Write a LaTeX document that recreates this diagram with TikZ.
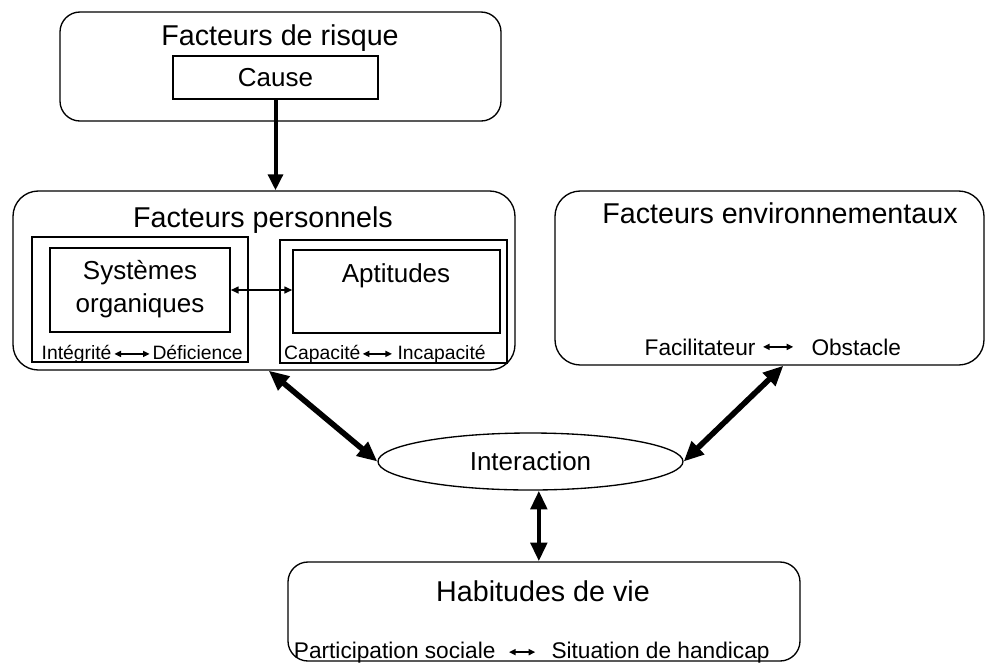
\documentclass[tikz,border=0pt]{standalone}
\usepackage{fontspec}
\setmainfont{Liberation Sans}
\usetikzlibrary{arrows.meta,fit,shapes.geometric}

\tikzset{every picture/.style={line width=0.75pt}}
\tikzset{
  roundbox/.style={draw, line width=1pt, rounded corners=15pt, inner sep=0pt},
  plainbox/.style={draw, line width=0.9pt, inner sep=0pt},
  titletext/.style={inner sep=0.75pt, font=\fontsize{21.5}{25}\selectfont},
  midtext/.style={inner sep=0.75pt, align=center, font=\fontsize{19.5}{24.5}\selectfont},
  lbltext/.style={inner sep=0.75pt, font=\fontsize{17}{20}\selectfont},
  smltext/.style={inner sep=0.75pt, font=\fontsize{14.5}{17}\selectfont},
  fatarrow/.style={line width=3pt, -{Triangle[length=12pt,width=11pt]}},
  fatboth/.style={line width=3.5pt, {Triangle[length=14pt,width=12pt]}-{Triangle[length=14pt,width=12pt]}},
  diagboth/.style={line width=4.2pt, {Triangle[length=15pt,width=13pt]}-{Triangle[length=15pt,width=13pt]}},
  medarrow/.style={line width=1.8pt, {Triangle[length=6pt,width=5pt]}-{Triangle[length=6pt,width=5pt]}},
  smallarrow/.style={line width=1.4pt, {Triangle[length=5pt,width=4.5pt]}-{Triangle[length=5pt,width=4.5pt]}}
}

\begin{document}
\begin{tikzpicture}[x=0.75pt,y=0.75pt,yscale=-1,xscale=1]
\useasboundingbox (0,0) rectangle (986,662);

%Shape: Rounded Rect [risque]
\node (risque) [roundbox, fit={(60,12) (501,121)}] {};
%Shape: Rectangle [cause]
\node (cause) [plainbox, fit={(173,56) (378,99)}] {};
%Shape: Rounded Rect [personnels]
\node (pers) [roundbox, rounded corners=19pt, fit={(13,191) (515,370)}] {};
%Shape: Rectangle [systemes]
\node (sysout) [plainbox, fit={(32,237) (248,362)}] {};
\node (sys) [plainbox, fit={(50,248) (230,332)}] {};
%Shape: Rectangle [aptitudes]
\node (aptout) [plainbox, fit={(280,240) (507,363)}] {};
\node (apt) [plainbox, fit={(293,250) (500,333)}] {};
%Shape: Rounded Rect [environnement]
\node (env) [roundbox, rounded corners=19pt, fit={(555,191) (984,365)}] {};
%Shape: Ellipse [interaction]
\node (interact) [draw, ellipse, line width=1pt, inner sep=0pt, minimum width=228.75pt, minimum height=42.75pt, midtext] at (530.5,461.5) {Interaction};
%Shape: Rounded Rect [habitudes]
\node (hab) [roundbox, fit={(288,562) (800,661)}] {};

% Text Node
\node (risquetxt) [titletext] at (280,38) {Facteurs de risque};
% Text Node
\node (causetxt) [midtext] at (275.5,78) {Cause};
% Text Node
\node (perstxt) [titletext] at (263,220) {Facteurs personnels};
% Text Node
\node (systxt) [midtext] at (140,289) {Systèmes\\organiques};
% Text Node
\node (apttxt) [midtext] at (396,276) {Aptitudes};
% Text Node
\node (integ) [smltext, anchor=base east] at (113,359) {Intégrité};
\node (defic) [smltext, anchor=base west] at (151,359) {Déficience};
% Text Node
\node (capa) [smltext, anchor=base east] at (362,359) {Capacité};
\node (incapa) [smltext, anchor=base west] at (396,359) {Incapacité};
% Text Node
\node (envtxt) [titletext] at (780,213) {Facteurs environnementaux};
% Text Node
\node (facil) [lbltext, anchor=base east] at (757,355) {Facilitateur};
\node (obst) [lbltext, anchor=base west] at (810,355) {Obstacle};
% Text Node
\node (habtxt) [titletext] at (543,591) {Habitudes de vie};
% Text Node
\node (partic) [lbltext, anchor=base east] at (497,658) {Participation sociale};
\node (situ) [lbltext, anchor=base west] at (550,658) {Situation de handicap};

%Straight Lines [arrows]
\draw [fatarrow] (cause.south) -- (cause.south |- pers.north);
\draw [medarrow] (sys.east) -- (sys.east -| apt.west);
\draw [smallarrow, shorten <=1pt, shorten >=1pt] (integ.east) -- (integ.east -| defic.west);
\draw [smallarrow, shorten <=0.5pt, shorten >=3pt] (capa.east) -- (capa.east -| incapa.west);
\draw [smallarrow, shorten <=4.5pt, shorten >=12.5pt] (facil.east) -- (facil.east -| obst.west);
\draw [smallarrow, shorten <=9pt, shorten >=11pt] (partic.east) -- (partic.east -| situ.west);
\draw [diagboth] (pers.-87.8) -- (interact.west);
\draw [diagboth] (env.-81.5) -- (interact.east);
\draw [fatboth] (interact.-74.3) -- (interact.-74.3 |- hab.north);

\end{tikzpicture}
\end{document}
